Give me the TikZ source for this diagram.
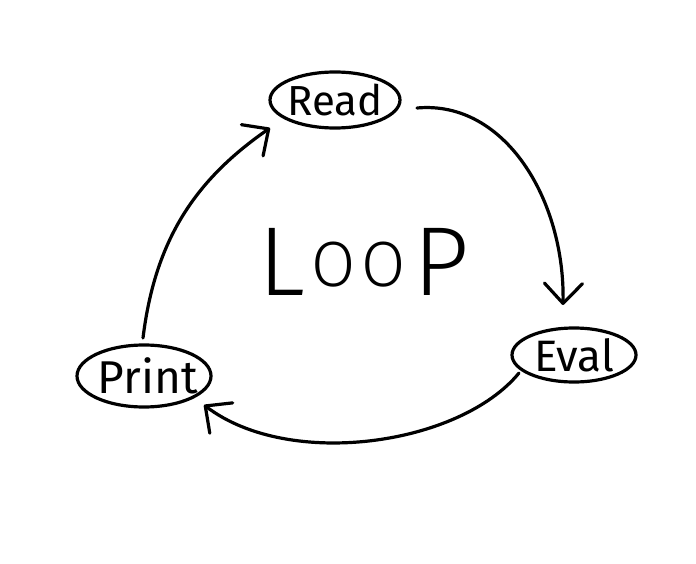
\documentclass[tikz,border=0pt]{standalone}
\usepackage{fontspec}
\setmainfont{Fira Sans}
\newfontfamily\loopfont{Fira Sans Light}
\usetikzlibrary{shapes.geometric,arrows.meta,calc}
\newcommand{\bigO}{\raisebox{9pt}{\fontsize{64}{66}\selectfont O}}
\begin{document}
\begin{tikzpicture}[x=1pt,y=-1pt,
  bubble/.style={ellipse,draw,line width=3.2pt,inner sep=0pt},
  flow/.style={line width=3.2pt,line cap=round,-{Straight Barb[length=20pt,width=38pt,round]}}]
\fill[white] (0,0) rectangle (696,564);
\useasboundingbox (0,0) rectangle (696,564);
\node[bubble,minimum width=130pt,minimum height=56pt,font=\fontsize{42}{44}\selectfont] (read) at (335,100) {\makebox[0pt]{Read}};
\node[bubble,minimum width=124pt,minimum height=54pt,font=\fontsize{44}{46}\selectfont] (eval) at (574,355) {\makebox[0pt]{Eval}};
\node[bubble,minimum width=134pt,minimum height=62pt,font=\fontsize{46}{48}\selectfont] (print) at (144,376) {\makebox[0pt]{\hspace{8pt}Print}};
\node[font=\loopfont\fontsize{98}{100}\selectfont] (loop) at (364,262) {L\hspace{6pt}\bigO\hspace{6pt}\bigO\hspace{8pt}P};
\coordinate (rs) at ($(read.center)+(82,8)$);
\coordinate (et) at ($(eval.center)+(-11,-50)$);
\coordinate (es) at ($(eval.center)+(-55,18)$);
\coordinate (pt) at ($(print.center)+(60,29)$);
\coordinate (ps) at ($(print.center)+(-1,-38)$);
\coordinate (rt) at ($(read.center)+(-65,28)$);
\draw[flow] (rs) .. controls (505,100) and (565,200) .. (et);
\draw[flow] (es) .. controls (460,445) and (290,470) .. (pt);
\draw[flow] (ps) .. controls (155,240) and (195,180) .. (rt);
\end{tikzpicture}
\end{document}
